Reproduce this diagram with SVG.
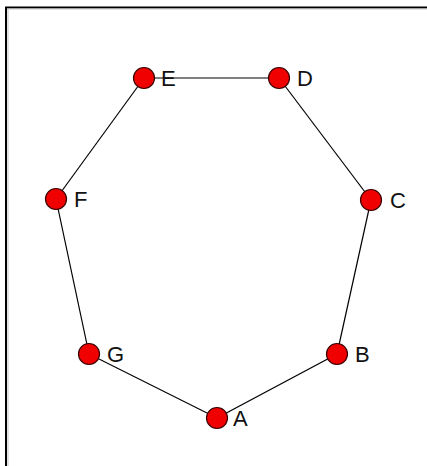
<svg xmlns="http://www.w3.org/2000/svg" width="427" height="466" viewBox="0 0 427 466">
<style>
.e{stroke:#000;stroke-width:1.2;fill:none}
.n{fill:#f00000;stroke:#3a0000;stroke-width:1.2}
.t{font-family:"Liberation Sans",Arial,sans-serif;font-size:22px;fill:#111}
</style>
<rect x="0" y="0" width="427" height="466" fill="#fff"/>
<line x1="5" y1="7.5" x2="427" y2="7.5" stroke="#000" stroke-width="2"/>
<line x1="6" y1="7" x2="6" y2="466" stroke="#000" stroke-width="2"/>
<line x1="7" y1="9" x2="427" y2="9" stroke="#c8c8c8" stroke-width="1"/>
<line x1="8" y1="9" x2="8" y2="466" stroke="#c8c8c8" stroke-width="1"/>
<g id="connectors">
<line class="e" x1="144" y1="78" x2="279" y2="78"/>
<line class="e" x1="279" y1="78" x2="371" y2="200"/>
<line class="e" x1="371" y1="200" x2="337" y2="354"/>
<line class="e" x1="337" y1="354" x2="217" y2="418"/>
<line class="e" x1="217" y1="418" x2="89" y2="354"/>
<line class="e" x1="89" y1="354" x2="56" y2="199"/>
<line class="e" x1="56" y1="199" x2="144" y2="78"/>
</g>
<g id="A"><circle class="n" cx="217" cy="418" r="10.5"/><text class="t" x="233" y="426">A</text></g>
<g id="B"><circle class="n" cx="337" cy="354" r="10.5"/><text class="t" x="355" y="362">B</text></g>
<g id="C"><circle class="n" cx="371" cy="200" r="10.5"/><text class="t" x="390" y="208">C</text></g>
<g id="D"><circle class="n" cx="279" cy="78" r="10.5"/><text class="t" x="297" y="86">D</text></g>
<g id="E"><circle class="n" cx="144" cy="78" r="10.5"/><text class="t" x="161" y="86">E</text></g>
<g id="F"><circle class="n" cx="56" cy="199" r="10.5"/><text class="t" x="74" y="207">F</text></g>
<g id="G"><circle class="n" cx="89" cy="354" r="10.5"/><text class="t" x="107" y="362">G</text></g>
</svg>
